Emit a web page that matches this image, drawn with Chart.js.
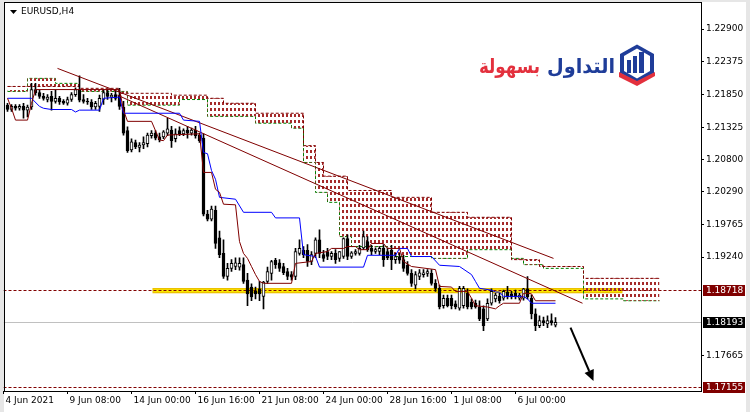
<!DOCTYPE html>
<html>
<head>
<meta charset="utf-8">
<script src="https://cdn.jsdelivr.net/npm/chart.js@4.4.0/dist/chart.umd.min.js"></script>
<style>
  html, body { margin: 0; padding: 0; background: #fff; }
  #wrap { width: 750px; height: 412px; }
</style>
</head>
<body>
<div id="wrap"><canvas id="chart" width="750" height="412"></canvas></div>
<script>
// EURUSD H4, bars counted from the first visible candle (4 Jun 16:00)
const opens = [
  1.2168,1.2161,1.2166,1.2163,1.2166,1.2160,1.2165,1.2193,1.2188,1.2182,
  1.2177,1.2182,1.2174,1.2179,1.2174,1.2171,1.2177,1.2185,1.2193,1.2177,
  1.2174,1.2173,1.2165,1.2166,1.2177,1.2188,1.2181,1.2185,1.2184,1.2165,
  1.2127,1.2096,1.2108,1.2100,1.2104,1.2106,1.2119,1.2123,1.2117,1.2117,
  1.2123,1.2128,1.2114,1.2127,1.2122,1.2128,1.2123,1.2128,1.2120,1.2115,
  1.1993,1.1985,1.1999,1.1955,1.1930,1.1893,1.1906,1.1909,1.1908,1.1912,
  1.1887,1.1876,1.1869,1.1873,1.1861,1.1885,1.1898,1.1919,1.1915,1.1909,
  1.1901,1.1896,1.1893,1.1930,1.1935,1.1935,1.1917,1.1930,1.1952,1.1928,
  1.1933,1.1925,1.1930,1.1922,1.1925,1.1954,1.1925,1.1930,1.1930,1.1939,
  1.1949,1.1938,1.1933,1.1933,1.1938,1.1933,1.1935,1.1920,1.1925,1.1920,
  1.1911,1.1898,1.1879,1.1893,1.1896,1.1898,1.1898,1.1882,1.1874,1.1846,
  1.1858,1.1858,1.1849,1.1842,1.1846,1.1866,1.1852,1.1850,1.1844,1.1841,
  1.1825,1.1850,1.1857,1.1861,1.1858,1.1868,1.1865,1.1866,1.1858,1.1858,
  1.1873,1.1858,1.1833,1.1814,1.1822,1.1817,1.1822,1.1815
];
const highs = [
  1.2171,1.2169,1.2169,1.2169,1.2171,1.2168,1.2203,1.2203,1.2192,1.2187,
  1.2185,1.2190,1.2192,1.2182,1.2177,1.2181,1.2188,1.2196,1.2215,1.2185,
  1.2179,1.2177,1.2174,1.2184,1.2193,1.2193,1.2187,1.2193,1.2195,1.2174,
  1.2133,1.2114,1.2112,1.2108,1.2117,1.2123,1.2127,1.2127,1.2123,1.2127,
  1.2147,1.2134,1.2130,1.2133,1.2130,1.2134,1.2131,1.2134,1.2123,1.2122,
  1.1999,1.2006,1.2006,1.1966,1.1952,1.1914,1.1920,1.1923,1.1923,1.1923,
  1.1898,1.1881,1.1876,1.1885,1.1885,1.1908,1.1919,1.1922,1.1920,1.1914,
  1.1906,1.1901,1.1938,1.1952,1.1941,1.1944,1.1933,1.1955,1.1968,1.1935,
  1.1938,1.1933,1.1936,1.1933,1.1955,1.1960,1.1933,1.1936,1.1943,1.1966,
  1.1957,1.1943,1.1939,1.1941,1.1944,1.1939,1.1943,1.1930,1.1930,1.1927,
  1.1917,1.1904,1.1901,1.1904,1.1904,1.1904,1.1904,1.1888,1.1879,1.1863,
  1.1863,1.1863,1.1854,1.1877,1.1877,1.1873,1.1857,1.1855,1.1854,1.1846,
  1.1857,1.1873,1.1866,1.1866,1.1871,1.1877,1.1869,1.1871,1.1866,1.1874,
  1.1893,1.1863,1.1841,1.1830,1.1828,1.1830,1.1833,1.1827
];
const lows = [
  1.2158,1.2158,1.2160,1.2160,1.2147,1.2149,1.2161,1.2184,1.2179,1.2176,
  1.2173,1.2160,1.2171,1.2169,1.2169,1.2168,1.2174,1.2182,1.2173,1.2171,
  1.2169,1.2161,1.2161,1.2158,1.2169,1.2177,1.2173,1.2176,1.2161,1.2120,
  1.2092,1.2093,1.2098,1.2093,1.2098,1.2101,1.2115,1.2112,1.2109,1.2114,
  1.2119,1.2100,1.2109,1.2119,1.2119,1.2115,1.2120,1.2115,1.2108,1.1990,
  1.1982,1.1982,1.1938,1.1923,1.1890,1.1887,1.1901,1.1904,1.1903,1.1882,
  1.1846,1.1854,1.1857,1.1854,1.1841,1.1882,1.1887,1.1906,1.1901,1.1896,
  1.1888,1.1887,1.1888,1.1927,1.1923,1.1909,1.1912,1.1923,1.1923,1.1917,
  1.1920,1.1920,1.1914,1.1917,1.1922,1.1920,1.1922,1.1927,1.1927,1.1936,
  1.1933,1.1928,1.1930,1.1928,1.1909,1.1920,1.1904,1.1914,1.1914,1.1901,
  1.1895,1.1877,1.1873,1.1888,1.1892,1.1893,1.1879,1.1869,1.1841,1.1842,
  1.1844,1.1841,1.1841,1.1839,1.1842,1.1841,1.1841,1.1842,1.1822,1.1806,
  1.1822,1.1847,1.1852,1.1850,1.1855,1.1857,1.1857,1.1857,1.1855,1.1855,
  1.1857,1.1825,1.1806,1.1811,1.1814,1.1811,1.1815,1.1812
];
const closes = [
  1.2161,1.2166,1.2163,1.2166,1.2160,1.2165,1.2193,1.2188,1.2182,1.2179,
  1.2181,1.2174,1.2179,1.2173,1.2171,1.2177,1.2185,1.2193,1.2176,1.2174,
  1.2173,1.2165,1.2171,1.2179,1.2188,1.2182,1.2184,1.2179,1.2166,1.2123,
  1.2095,1.2109,1.2101,1.2104,1.2108,1.2120,1.2123,1.2115,1.2112,1.2125,
  1.2130,1.2111,1.2122,1.2122,1.2127,1.2123,1.2128,1.2119,1.2111,1.1993,
  1.1985,1.2001,1.1946,1.1928,1.1893,1.1906,1.1914,1.1915,1.1914,1.1885,
  1.1865,1.1860,1.1865,1.1865,1.1884,1.1901,1.1917,1.1912,1.1906,1.1899,
  1.1893,1.1892,1.1933,1.1938,1.1928,1.1917,1.1928,1.1952,1.1930,1.1922,
  1.1925,1.1930,1.1920,1.1933,1.1954,1.1925,1.1931,1.1933,1.1938,1.1957,
  1.1936,1.1933,1.1936,1.1938,1.1920,1.1923,1.1920,1.1925,1.1919,1.1906,
  1.1898,1.1882,1.1896,1.1899,1.1899,1.1901,1.1882,1.1874,1.1844,1.1858,
  1.1846,1.1846,1.1844,1.1874,1.1874,1.1844,1.1844,1.1844,1.1825,1.1814,
  1.1850,1.1869,1.1863,1.1854,1.1869,1.1860,1.1860,1.1860,1.1863,1.1873,
  1.1860,1.1833,1.1814,1.1822,1.1819,1.1822,1.1819,1.18193
];

// ichimoku lines as (bar, price) vertices
const tenkanIdx = [0,1,2,5,6,7,28,29,30,36,38,39,40,48,49,51,52,53,54,57,58,59,60,61,62,63,64,71,72,76,77,80,81,84,85,87,88,90,91,94,95,98,99,101,107,108,111,112,115,116,117,120,122,123,124,128,129,130,131,132,137];
const tenkanVal = [1.2179,1.2163,1.2144,1.2144,1.2171,1.2193,1.2193,1.2160,1.2142,1.2142,1.2112,1.2111,1.2120,1.2122,1.2060,1.2060,1.2033,1.2028,1.2009,1.2008,1.1949,1.1930,1.1922,1.1909,1.1896,1.1885,1.1882,1.1882,1.1914,1.1917,1.1930,1.1933,1.1938,1.1938,1.1941,1.1941,1.1936,1.1936,1.1946,1.1946,1.1938,1.1938,1.1917,1.1909,1.1904,1.1877,1.1876,1.1869,1.1869,1.1858,1.1846,1.1844,1.1841,1.1846,1.1850,1.1850,1.1866,1.1866,1.1865,1.1854,1.1854];
const kijunIdx = [0,6,8,9,11,16,17,18,23,24,28,29,43,44,48,49,50,51,52,53,57,59,66,67,73,74,77,78,89,90,97,98,100,101,106,108,113,116,117,118,121,122,123,124,129,130,131,137];
const kijunVal = [1.2179,1.2179,1.2166,1.2163,1.2161,1.2161,1.2157,1.2160,1.2160,1.2179,1.2181,1.2155,1.2155,1.2144,1.2142,1.2092,1.2090,1.2063,1.2049,1.2020,1.2017,1.1996,1.1996,1.1987,1.1987,1.1928,1.1925,1.1908,1.1908,1.1927,1.1927,1.1938,1.1938,1.1925,1.1925,1.1911,1.1909,1.1896,1.1885,1.1874,1.1871,1.1868,1.1868,1.1861,1.1861,1.1857,1.1850,1.1850];
// cloud edges, step starts (shifted 26 bars ahead)
const spanBIdx = [0,18,28,41,50,54,62,74,77,79,85,96,106,115,126,133,144,163];
const spanBVal = [1.2198,1.2195,1.2187,1.2184,1.2179,1.2171,1.2155,1.2103,1.2076,1.2054,1.2031,1.2020,1.1996,1.1988,1.1920,1.1909,1.1890,1.1890];
const spanAIdx = [0,5,12,18,30,43,50,62,71,74,77,80,83,86,96,106,115,126,129,134,144,154,163];
const spanAVal = [1.2190,1.2211,1.2203,1.2190,1.2168,1.2177,1.2150,1.2139,1.2131,1.2076,1.2028,1.2012,1.1957,1.1941,1.1925,1.1922,1.1936,1.1922,1.1912,1.1906,1.1857,1.1854,1.1854];

// drawn objects
const trendUpperIdx = [12.5, 136.5];
const trendUpperVal = [1.2227, 1.1922];
const trendLowerIdx = [27.5, 143.75];
const trendLowerVal = [1.2184, 1.1850];
const zoneIdx = [36.25, 153.75];
const zoneVal = [1.18745, 1.18660];
const arrowIdx = [140.75, 146.5];
const arrowVal = [1.1811, 1.1725];
const resistLevel = 1.18718;
const bidLevel = 1.18193;
const targetLevel = 1.17155;

// axes
const yTicks = [1.22900, 1.22375, 1.21850, 1.21325, 1.20800, 1.20290, 1.19765, 1.19240, 1.17665];
const xTickIdx = [-1, 15, 31, 47, 63, 79, 95, 111, 127];
const xTickLabels = ['4 Jun 2021', '9 Jun 08:00', '14 Jun 00:00', '16 Jun 16:00', '21 Jun 08:00', '24 Jun 00:00', '28 Jun 16:00', '1 Jul 08:00', '6 Jul 00:00'];

const MAROON = '#800000';
const FONT = { family: '"DejaVu Sans", sans-serif', size: 9 };

const pts = (xs, ys) => xs.map((x, k) => ({ x: x, y: ys[k] }));
const bars = opens.map((_, i) => i);
const isBull = bars.map(i => closes[i] >= opens[i]);

// vertical dotted hatch of the cloud, one column per bar
const hatch = (() => {
  const c = document.createElement('canvas');
  c.width = 4; c.height = 6;
  const g = c.getContext('2d');
  g.fillStyle = '#a52a2a';
  g.fillRect(2, 0, 2, 3);
  return g.createPattern(c, 'repeat');
})();

const overlay = {
  id: 'overlay',
  beforeDraw(chart) {
    const ctx = chart.ctx;
    ctx.save();
    ctx.fillStyle = '#fff';
    ctx.fillRect(0, 0, 750, 412);
    ctx.fillStyle = '#e6e6e6';
    ctx.fillRect(0, 0, 750, 2);
    ctx.fillRect(0, 0, 4, 412);
    ctx.fillRect(746, 0, 4, 412);
    ctx.restore();
  },
  beforeDatasetsDraw(chart) {
    const { ctx, chartArea: a, scales: { x, y } } = chart;
    ctx.save();
    ctx.beginPath();
    ctx.rect(a.left, a.top, a.right - a.left, a.bottom - a.top);
    ctx.clip();
    // yellow zone
    const x0 = x.getPixelForValue(zoneIdx[0]), x1 = x.getPixelForValue(zoneIdx[1]);
    const y0 = y.getPixelForValue(zoneVal[0]), y1 = y.getPixelForValue(zoneVal[1]);
    ctx.fillStyle = '#ecc200';
    ctx.fillRect(x0, y0, x1 - x0, y1 - y0);
    ctx.fillStyle = '#fff200';
    ctx.fillRect(x0 + 1, y0 + 1.5, x1 - x0 - 2, y1 - y0 - 3);
    // price levels
    const hline = (v, color, dash) => {
      const py = Math.round(y.getPixelForValue(v)) + 0.5;
      ctx.beginPath();
      ctx.setLineDash(dash);
      ctx.strokeStyle = color;
      ctx.lineWidth = 1;
      ctx.moveTo(a.left, py);
      ctx.lineTo(a.right, py);
      ctx.stroke();
    };
    hline(bidLevel, '#c0c0c0', []);
    hline(resistLevel, MAROON, [3, 2]);
    hline(targetLevel, MAROON, [3, 2]);
    ctx.restore();
  },
  afterDraw(chart) {
    const { ctx, scales: { x, y } } = chart;
    ctx.save();
    // frame of the chart window
    ctx.strokeStyle = '#000';
    ctx.lineWidth = 1;
    ctx.setLineDash([]);
    ctx.strokeRect(4.5, 2.5, 697, 389);

    // price tags on the right axis
    ctx.font = '9px "DejaVu Sans", sans-serif';
    ctx.textBaseline = 'middle';
    ctx.textAlign = 'left';
    [[resistLevel, MAROON], [bidLevel, '#000'], [targetLevel, MAROON]].forEach(([v, bg]) => {
      const py = Math.round(y.getPixelForValue(v));
      ctx.fillStyle = bg;
      ctx.fillRect(703, py - 5, 42, 11);
      ctx.fillStyle = '#fff';
      ctx.fillText(v.toFixed(5), 706, py + 0.5);
    });

    // arrow
    const ax0 = x.getPixelForValue(arrowIdx[0]), ay0 = y.getPixelForValue(arrowVal[0]);
    const ax1 = x.getPixelForValue(arrowIdx[1]), ay1 = y.getPixelForValue(arrowVal[1]);
    const ang = Math.atan2(ay1 - ay0, ax1 - ax0);
    const hl = 11, hw = 5;
    const bx = ax1 - hl * Math.cos(ang), by = ay1 - hl * Math.sin(ang);
    ctx.strokeStyle = '#000';
    ctx.lineWidth = 2;
    ctx.beginPath();
    ctx.moveTo(ax0, ay0);
    ctx.lineTo(bx, by);
    ctx.stroke();
    ctx.fillStyle = '#000';
    ctx.beginPath();
    ctx.moveTo(ax1, ay1);
    ctx.lineTo(bx + hw * Math.sin(ang), by - hw * Math.cos(ang));
    ctx.lineTo(bx - hw * Math.sin(ang), by + hw * Math.cos(ang));
    ctx.closePath();
    ctx.fill();

    // symbol caption
    ctx.beginPath();
    ctx.moveTo(10, 10); ctx.lineTo(17, 10); ctx.lineTo(13.5, 14);
    ctx.closePath();
    ctx.fill();
    ctx.fillStyle = '#000';
    ctx.fillText('EURUSD,H4', 21, 12);

    // logo
    const word = (txt, right, width, color) => {
      ctx.font = 'bold 20px "DejaVu Sans", sans-serif';
      ctx.textAlign = 'right';
      ctx.textBaseline = 'alphabetic';
      const w = ctx.measureText(txt).width;
      ctx.save();
      ctx.translate(right, 73);
      ctx.scale(width / w, 1);
      ctx.fillStyle = color;
      ctx.fillText(txt, 0, 0);
      ctx.restore();
    };
    word('التداول', 615, 68, '#1f3d99');
    word('بسهولة', 540, 61, '#e3303d');

    const hex = (cx, cy, rx, ry) => {
      ctx.beginPath();
      ctx.moveTo(cx, cy - ry);
      ctx.lineTo(cx + rx, cy - ry / 2);
      ctx.lineTo(cx + rx, cy + ry / 2);
      ctx.lineTo(cx, cy + ry);
      ctx.lineTo(cx - rx, cy + ry / 2);
      ctx.lineTo(cx - rx, cy - ry / 2);
      ctx.closePath();
    };
    ctx.fillStyle = '#1f3d99';
    hex(637, 63.5, 17, 19);
    ctx.fill();
    ctx.fillStyle = '#fff';
    hex(637, 63.5, 13, 15);
    ctx.fill();
    ctx.fillStyle = '#1f3d99';
    ctx.fillRect(627, 60, 4, 13);
    ctx.fillRect(633, 56, 4, 17);
    ctx.fillRect(639, 52, 5, 21);
    ctx.fillStyle = '#e3303d';
    ctx.beginPath();
    ctx.moveTo(619, 72); ctx.lineTo(637, 81); ctx.lineTo(655, 72);
    ctx.lineTo(655, 76); ctx.lineTo(637, 86); ctx.lineTo(619, 77);
    ctx.closePath();
    ctx.fill();
    ctx.restore();
  }
};

new Chart(document.getElementById('chart'), {
  type: 'line',
  data: {
    datasets: [
      { type: 'line', label: 'Tenkan', data: pts(tenkanIdx, tenkanVal), borderColor: MAROON, borderWidth: 1, pointRadius: 0, order: 0 },
      { type: 'line', label: 'Kijun', data: pts(kijunIdx, kijunVal), borderColor: '#0000ff', borderWidth: 1, pointRadius: 0, order: 0 },
      { type: 'line', label: 'Trend 1', data: pts(trendUpperIdx, trendUpperVal), borderColor: MAROON, borderWidth: 1, pointRadius: 0, order: 0 },
      { type: 'line', label: 'Trend 2', data: pts(trendLowerIdx, trendLowerVal), borderColor: MAROON, borderWidth: 1, pointRadius: 0, order: 0 },
      {
        type: 'bar', label: 'Body',
        data: bars.map(i => ({ x: i, y: [opens[i], closes[i]] })),
        backgroundColor: bars.map(i => isBull[i] ? '#ffffff' : '#000000'),
        borderColor: '#000', borderWidth: 1, borderSkipped: false,
        barThickness: 3, grouped: false, order: 1
      },
      {
        type: 'bar', label: 'Wick',
        data: bars.map(i => ({ x: i, y: [lows[i], highs[i]] })),
        backgroundColor: '#000', barThickness: 1, grouped: false, order: 2
      },
      {
        type: 'line', label: 'Senkou B', data: pts(spanBIdx, spanBVal),
        borderColor: MAROON, borderDash: [3, 2], borderWidth: 1, pointRadius: 0, stepped: true,
        fill: { target: '+1', above: hatch, below: hatch }, order: 3
      },
      {
        type: 'line', label: 'Senkou A', data: pts(spanAIdx, spanAVal),
        borderColor: '#008000', borderDash: [3, 2], borderWidth: 1, pointRadius: 0, stepped: true,
        fill: false, order: 3
      }
    ]
  },
  options: {
    responsive: false,
    animation: false,
    events: [],
    layout: { padding: { left: 3.5, top: 3, right: 0, bottom: 0 } },
    plugins: { legend: { display: false }, tooltip: { enabled: false } },
    scales: {
      x: {
        type: 'linear', position: 'bottom', min: -1, max: 173.375, offset: false,
        afterBuildTicks: s => { s.ticks = xTickIdx.map(v => ({ value: v })); },
        afterFit: s => { s.height = 21; },
        grid: { drawOnChartArea: false, tickLength: 3, color: '#000', offset: false },
        border: { display: false },
        ticks: {
          autoSkip: false, maxRotation: 0, align: 'start', padding: 1, labelOffset: 2,
          color: '#000', font: FONT,
          callback: v => xTickLabels[xTickIdx.indexOf(v)] || ''
        }
      },
      y: {
        type: 'linear', position: 'right', min: 1.170914, max: 1.232491,
        afterBuildTicks: s => { s.ticks = yTicks.map(v => ({ value: v })); },
        afterFit: s => { s.width = 49; },
        grid: { drawOnChartArea: false, tickLength: 3, color: '#000' },
        border: { display: false },
        ticks: { padding: 2, color: '#000', font: FONT, callback: v => Number(v).toFixed(5) }
      }
    }
  },
  plugins: [overlay]
});
</script>
</body>
</html>
